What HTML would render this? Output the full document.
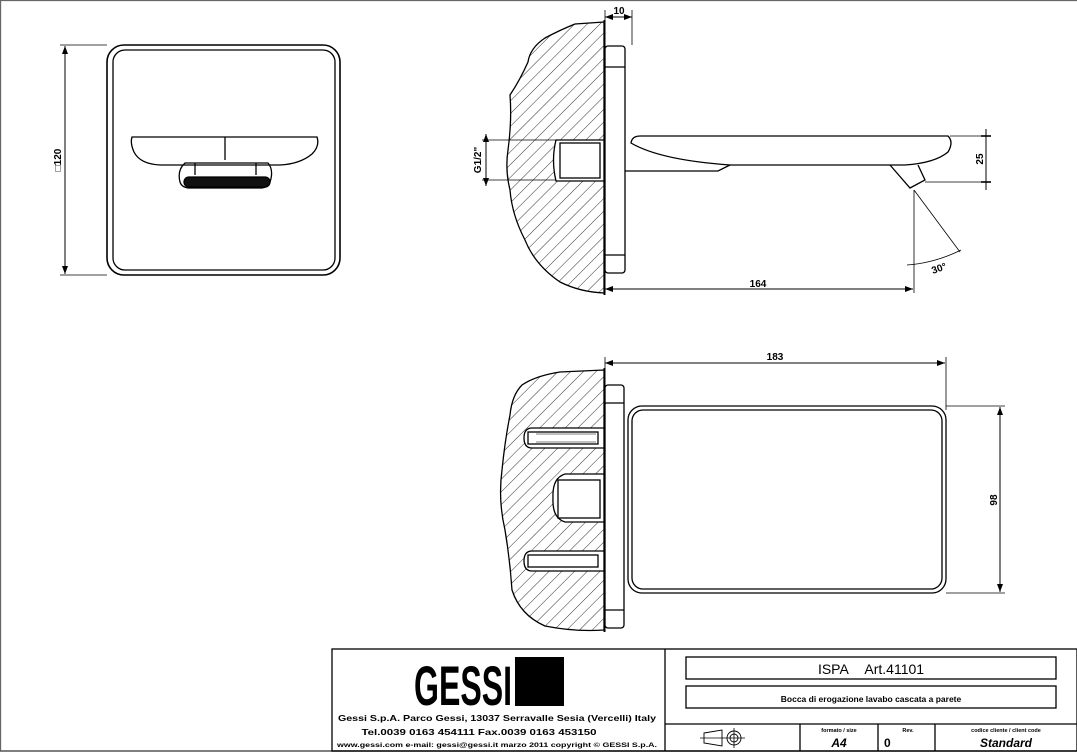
<!DOCTYPE html>
<html><head><meta charset="utf-8"><style>
html,body{margin:0;padding:0;background:#fff;}
svg{display:block;font-family:"Liberation Sans",sans-serif;}
</style></head><body>
<svg width="1077" height="754" viewBox="0 0 1077 754" xmlns="http://www.w3.org/2000/svg">
<defs>
<pattern id="h" patternUnits="userSpaceOnUse" width="9" height="9" patternTransform="rotate(45)">
<line x1="0" y1="0" x2="0" y2="9" stroke="#333" stroke-width="1"/>
</pattern>
<marker id="a" markerWidth="8" markerHeight="6" refX="8" refY="3" orient="auto-start-reverse" markerUnits="userSpaceOnUse"><path d="M0,0 L8,3 L0,6z" fill="#000"/></marker>
</defs>
<g fill="none" stroke="#000" stroke-width="1.3">
<line x1="0.5" y1="0" x2="0.5" y2="751" stroke="#666"/>
<line x1="0" y1="0.5" x2="1077" y2="0.5" stroke="#666"/>
<line x1="0" y1="751" x2="1077" y2="751" stroke="#555" stroke-width="1.5"/>

<!-- front view -->
<rect x="107" y="45" width="233" height="230" rx="17" stroke-width="1.6"/>
<rect x="113" y="50" width="222" height="220" rx="12"/>
<line x1="65" y1="46" x2="65" y2="274" marker-start="url(#a)" marker-end="url(#a)" stroke-width="1"/>
<line x1="60" y1="45" x2="107" y2="45" stroke-width="0.8"/>
<line x1="60" y1="275" x2="107" y2="275" stroke-width="0.8"/>
<path d="M132,137 L317,137 Q320,146 312,154 Q300,164 280,165 L160,165 Q140,164 134,152 Q130,143 132,137Z"/>
<line x1="225" y1="137" x2="225" y2="160"/>
<path d="M185,163 L268,163 Q274,170 270,182 Q268,188 260,188 L190,188 Q182,188 180,182 Q177,170 185,163Z"/>
<line x1="195" y1="163" x2="195" y2="175"/><line x1="256" y1="163" x2="256" y2="175"/>
<rect x="184" y="177" width="86" height="10" rx="5" fill="#111"/>

<!-- side view wall -->
<path d="M604,22 L575,24 Q560,30 545,38 Q530,48 528,62 Q520,80 510,95 Q512,120 508,150 Q505,170 510,190 Q512,215 525,240 Q535,265 560,282 Q580,292 604,293Z" fill="url(#h)" stroke-width="1.3"/>
<line x1="604.5" y1="20" x2="604.5" y2="295" stroke-width="2"/>
<path d="M556,140 L604,140 L604,181 L556,181 Q551,160 556,140Z" fill="#fff"/>
<rect x="560" y="143" width="40" height="35"/>
<rect x="605" y="46" width="20" height="227" rx="3"/>
<line x1="605" y1="67" x2="625" y2="67"/><line x1="605" y1="255" x2="625" y2="255"/>
<path d="M631,143 Q632,136 640,136 L948,136 Q954,142 948,152 Q935,163 905,165 L730,165 Q660,160 631,143Z"/>
<line x1="625" y1="171" x2="700" y2="171"/>
<path d="M700,171 L718,171 L730,165"/>
<path d="M890,165 L910,188 L925,180 L918,165"/>
<line x1="605" y1="17" x2="632" y2="17" marker-start="url(#a)" marker-end="url(#a)" stroke-width="1"/>
<line x1="632" y1="10" x2="632" y2="45" stroke-width="0.8"/>
<line x1="605" y1="10" x2="605" y2="20" stroke-width="0.8"/>
<line x1="486" y1="134" x2="486" y2="186" stroke-width="1" marker-start="url(#a)" marker-end="url(#a)"/>
<line x1="482" y1="140" x2="556" y2="140" stroke-width="0.8"/>
<line x1="482" y1="180" x2="556" y2="180" stroke-width="0.8"/>
<line x1="986" y1="129" x2="986" y2="190" stroke-width="1"/>
<line x1="981" y1="136" x2="991" y2="136" stroke-width="1.6"/><line x1="981" y1="182" x2="991" y2="182" stroke-width="1.6"/>
<line x1="950" y1="136" x2="990" y2="136" stroke-width="0.8"/>
<line x1="925" y1="182" x2="990" y2="182" stroke-width="0.8"/>
<line x1="914" y1="190" x2="914" y2="293" stroke-width="0.8"/>
<line x1="914" y1="190" x2="960" y2="252" stroke-width="0.8"/>
<path d="M907,265 Q935,263 961,250" stroke-width="0.8"/>
<line x1="605" y1="289" x2="913" y2="289" marker-start="url(#a)" marker-end="url(#a)" stroke-width="1"/>

<!-- plan view -->
<path d="M604,370 L560,372 Q535,376 522,385 Q512,395 510,415 Q505,440 502,470 Q498,500 505,530 Q510,560 512,590 Q520,615 545,626 Q575,632 604,630Z" fill="url(#h)"/>
<line x1="604.5" y1="368" x2="604.5" y2="632" stroke-width="2"/>
<path d="M604,428 L532,428 Q524,428 524,438 Q524,448 532,448 L604,448Z" fill="#fff"/>
<rect x="528" y="432" width="70" height="12"/>
<path d="M536,434 h60 M536,442 h60" stroke-width="0.6"/>
<path d="M604,551 L532,551 Q524,551 524,561 Q524,571 532,571 L604,571Z" fill="#fff"/>
<rect x="528" y="555" width="70" height="12"/>
<path d="M604,474 L565,474 Q552,478 553,498 Q552,518 565,522 L604,522Z" fill="#fff"/>
<rect x="558" y="480" width="42" height="38"/>
<rect x="605" y="385" width="19" height="243" rx="3"/>
<line x1="605" y1="403" x2="624" y2="403"/><line x1="605" y1="610" x2="624" y2="610"/>
<rect x="628" y="406" width="318" height="187" rx="14"/>
<rect x="632" y="410" width="310" height="179" rx="11"/>
<line x1="605" y1="363" x2="945" y2="363" marker-start="url(#a)" marker-end="url(#a)" stroke-width="1"/>
<line x1="605" y1="357" x2="605" y2="380" stroke-width="0.8"/>
<line x1="946" y1="357" x2="946" y2="410" stroke-width="0.8"/>
<line x1="1000" y1="407" x2="1000" y2="592" marker-start="url(#a)" marker-end="url(#a)" stroke-width="1"/>
<line x1="946" y1="406" x2="1005" y2="406" stroke-width="0.8"/>
<line x1="946" y1="593" x2="1005" y2="593" stroke-width="0.8"/>

<!-- title block -->
<rect x="332" y="649" width="745" height="102" stroke-width="1.3"/>
<line x1="665" y1="649" x2="665" y2="751"/>
<line x1="665" y1="724" x2="1077" y2="724"/>
<rect x="686" y="657" width="370" height="22"/>
<rect x="686" y="686" width="370" height="22"/>
<line x1="800" y1="724" x2="800" y2="751"/>
<line x1="878" y1="724" x2="878" y2="751"/>
<line x1="935" y1="724" x2="935" y2="751"/>
<path d="M704,733 L722,730 L722,746 L704,743Z" stroke-width="0.9"/>
<line x1="700" y1="738" x2="745" y2="738" stroke-width="0.8"/>
<circle cx="734" cy="738" r="7" stroke-width="0.9"/><circle cx="734" cy="738" r="4" stroke-width="0.9"/>
<line x1="734" y1="728" x2="734" y2="748" stroke-width="0.8"/>
</g>
<rect x="515" y="657" width="49" height="49" fill="#000"/>
<g fill="#000" font-weight="bold">
<text x="463" y="705" font-size="56" text-anchor="middle" textLength="98" lengthAdjust="spacingAndGlyphs">GESSI</text>
<text x="497" y="721" font-size="8.5" text-anchor="middle" textLength="318" lengthAdjust="spacingAndGlyphs">Gessi S.p.A. Parco Gessi, 13037 Serravalle Sesia (Vercelli) Italy</text>
<text x="479" y="735" font-size="8.5" text-anchor="middle" textLength="235" lengthAdjust="spacingAndGlyphs">Tel.0039 0163 454111 Fax.0039 0163 453150</text>
<text x="497" y="747" font-size="6" text-anchor="middle" textLength="320" lengthAdjust="spacingAndGlyphs">www.gessi.com e-mail: gessi@gessi.it   marzo 2011   copyright © GESSI S.p.A.</text>
<text x="871" y="674" font-size="14" font-weight="normal" text-anchor="middle">ISPA&#160;&#160;&#160;&#160;Art.41101</text>
<text x="871" y="702" font-size="8.5" text-anchor="middle">Bocca di erogazione lavabo cascata a parete</text>
<text x="839" y="732" font-size="5.5" text-anchor="middle">formato / size</text>
<text x="839" y="747" font-size="12" font-style="italic" text-anchor="middle">A4</text>
<text x="908" y="732" font-size="5.5" text-anchor="middle">Rev.</text>
<text x="884" y="747" font-size="12">0</text>
<text x="1006" y="732" font-size="5.5" text-anchor="middle">codice cliente / client code</text>
<text x="1006" y="747" font-size="12" font-style="italic" text-anchor="middle">Standard</text>
<text x="619" y="14" font-size="10" text-anchor="middle">10</text>
<text x="758" y="287" font-size="10" text-anchor="middle">164</text>
<text x="933" y="274" font-size="10" transform="rotate(-20 933 274)">30°</text>
<text x="775" y="360" font-size="10" text-anchor="middle">183</text>
<text font-size="10" text-anchor="middle" transform="translate(983 159) rotate(-90)">25</text>
<text font-size="10" text-anchor="middle" transform="translate(1000 500) rotate(-90)" dy="-3">98</text>
<text font-size="10" text-anchor="middle" transform="translate(484 160) rotate(-90)" dy="-3">G1/2"</text>
<text font-size="10" text-anchor="middle" transform="translate(62 160) rotate(-90)" dy="-1">□120</text>
</g>
</svg>
</body></html>
